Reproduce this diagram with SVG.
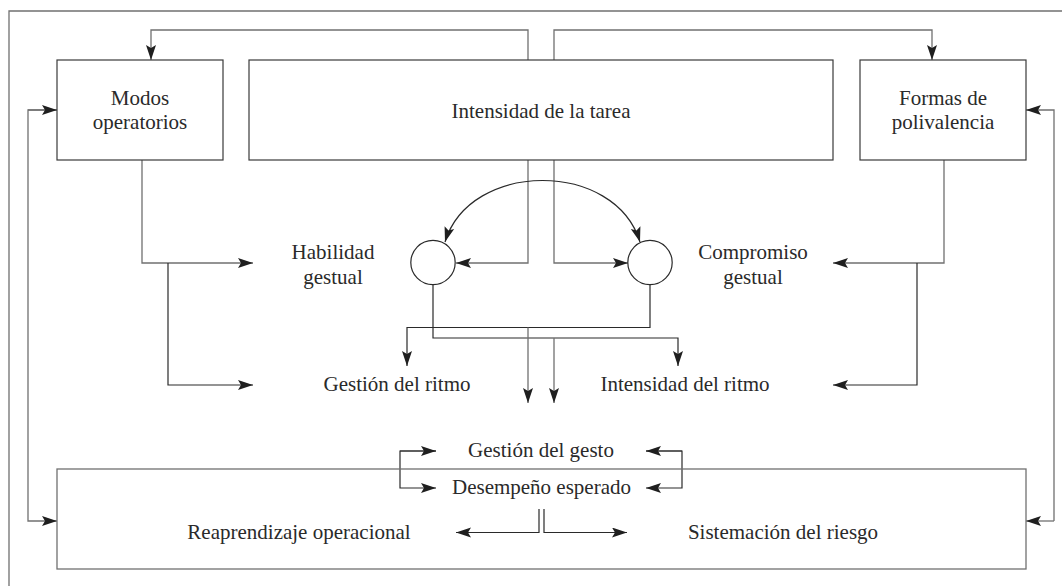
<svg xmlns="http://www.w3.org/2000/svg" width="1062" height="586" viewBox="0 0 1062 586">
<style>
.g{fill:none;stroke:#707070;stroke-width:1.3}
.k{fill:none;stroke:#2a2a2a;stroke-width:1.2}
.box{fill:#fff;stroke:#3a3a3a;stroke-width:1.2}
.bx2{fill:none;stroke:#707070;stroke-width:1.3}
text{font-family:"Liberation Serif","Times New Roman",serif;font-size:21px;fill:#2a2a2a;text-anchor:middle}
.a{marker-end:url(#ar)}
.ab{marker-start:url(#as);marker-end:url(#ar)}
</style>
<defs>
<marker id="ar" markerUnits="userSpaceOnUse" markerWidth="16" markerHeight="11" refX="15" refY="5" orient="auto">
<path d="M0,0 L15,5 L0,10 L3,5 z" fill="#1f1f1f"/>
</marker>
<marker id="as" markerUnits="userSpaceOnUse" markerWidth="16" markerHeight="11" refX="0" refY="5" orient="auto">
<path d="M15,0 L0,5 L15,10 L12,5 z" fill="#1f1f1f"/>
</marker>
</defs>
<rect width="1062" height="586" fill="#fff"/>
<path class="g" d="M9,586 V11 H1062"/>
<g id="connectors">
<path class="g a" d="M528,60 V30 H151 V60"/>
<path class="g a" d="M554,60 V30 H932 V60"/>
<path class="g a" d="M528,160 V263 H456"/>
<path class="g a" d="M554,160 V263 H628"/>
<path class="k ab" d="M445,242 C470,160 615,160 640,242"/>
<path class="k a" d="M433,284.5 V338 H678 V366"/>
<path class="k a" d="M650,284.5 V327.5 H407 V366"/>
<path class="g a" d="M528,327.5 V403"/>
<path class="g a" d="M554,338 V403"/>
<path class="g a" d="M142,160 V263 H253"/>
<path class="k a" d="M168,263 V385 H253"/>
<path class="g a" d="M944,160 V263 H833"/>
<path class="k a" d="M917,263 V385 H833"/>
<path class="g ab" d="M57,110 H28 V521 H57" style="marker-start:none"/>
<path class="g a" d="M28,110 H57"/>
<path class="g a" d="M1054,521 V110 H1026"/>
<path class="g a" d="M1054,521 H1026"/>
<path class="k a" d="M436,451 H400 V488 H436"/>
<path class="k a" d="M400,451 H436"/>
<path class="k a" d="M646,451 H682 V488 H646"/>
<path class="k a" d="M682,451 H646"/>
<path class="k a" d="M539,509 V532.5 H456"/>
<path class="k a" d="M544,509 V532.5 H627"/>
</g>
<g id="modos">
<rect class="box" x="57" y="60" width="166" height="100"/>
<text x="140" y="105">Modos</text>
<text x="140" y="129">operatorios</text>
</g>
<g id="intensidad-tarea">
<rect class="box" x="249" y="60" width="584" height="100"/>
<text x="541" y="118">Intensidad de la tarea</text>
</g>
<g id="formas">
<rect class="box" x="860" y="60" width="166" height="100"/>
<text x="943" y="105">Formas de</text>
<text x="943" y="129">polivalencia</text>
</g>
<g id="circulo-izq"><circle cx="433" cy="262.5" r="22.2" fill="#fff" stroke="#2a2a2a" stroke-width="1.2"/></g>
<g id="circulo-der"><circle cx="650" cy="262.5" r="22.2" fill="#fff" stroke="#2a2a2a" stroke-width="1.2"/></g>
<g id="habilidad">
<text x="333" y="259">Habilidad</text>
<text x="333" y="284">gestual</text>
</g>
<g id="compromiso">
<text x="753" y="259">Compromiso</text>
<text x="753" y="284">gestual</text>
</g>
<g id="gestion-ritmo"><text x="397" y="390.5">Gestión del ritmo</text></g>
<g id="intensidad-ritmo"><text x="685" y="390.5">Intensidad del ritmo</text></g>
<g id="gestion-gesto"><text x="541" y="457">Gestión del gesto</text></g>
<g id="caja-inferior">
<rect class="bx2" x="57" y="469" width="969" height="100"/>
<text x="541.5" y="494">Desempeño esperado</text>
<text x="299" y="539">Reaprendizaje operacional</text>
<text x="783" y="539">Sistemación del riesgo</text>
</g>
</svg>
